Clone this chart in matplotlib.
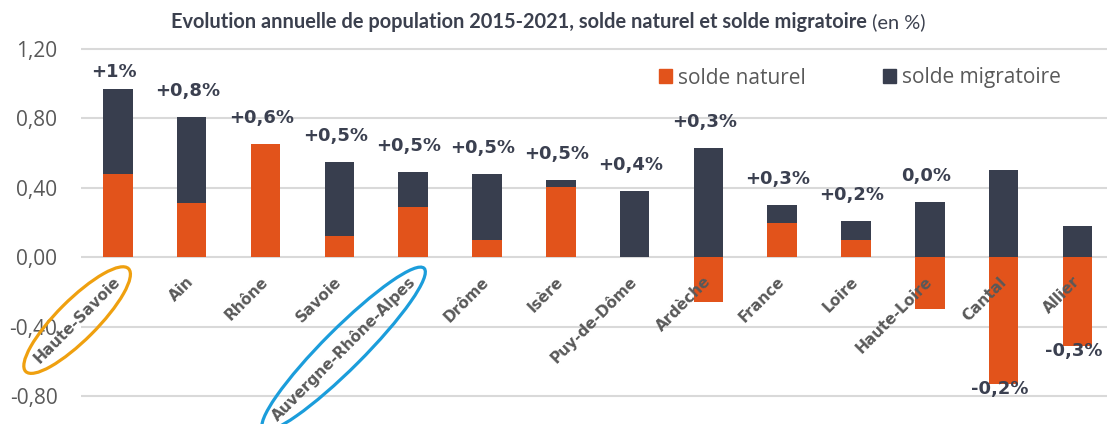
import matplotlib
matplotlib.use("Agg")
import matplotlib.pyplot as plt
from matplotlib.patches import Patch, Ellipse
from matplotlib.transforms import IdentityTransform
import numpy as np

# ---------------- data ----------------
categories = ["Haute-Savoie", "Ain", "Rhône", "Savoie", "Auvergne-Rhône-Alpes", "Drôme", "Isère",
              "Puy-de-Dôme", "Ardèche", "France", "Loire", "Haute-Loire", "Cantal", "Allier"]
solde_naturel = [0.48, 0.31, 0.65, 0.12, 0.29, 0.10, 0.405, 0.00, -0.26, 0.20, 0.10, -0.30, -0.73, -0.51]
solde_migratoire = [0.49, 0.50, 0.00, 0.43, 0.20, 0.38, 0.04, 0.38, 0.63, 0.10, 0.11, 0.32, 0.50, 0.18]
total_labels = ["+1%", "+0,8%", "+0,6%", "+0,5%", "+0,5%", "+0,5%", "+0,5%", "+0,4%",
                "+0,3%", "+0,3%", "+0,2%", "0,0%", "-0,2%", "-0,3%"]
y_ticks = [-0.80, -0.40, 0.00, 0.40, 0.80, 1.20]
y_tick_labels = ["-0,80", "-0,40", "0,00", "0,40", "0,80", "1,20"]
series_names = ["solde naturel", "solde migratoire"]
highlighted = ["Haute-Savoie", "Auvergne-Rhône-Alpes"]
title_bold = "Evolution annuelle de population 2015-2021, solde naturel et solde migratoire"
title_normal = " (en %)"

# ---------------- style ----------------
ORANGE = "#E2531B"
DARK = "#383E4E"
GRID = "#D9D9D9"
GRAY = "#595959"
LABEL_C = "#3B4050"
TITLE_C = "#3B404E"
HIGHLIGHT_COLORS = ["#EFA00F", "#1B9DDB"]

W, H = 1107, 424
fig = plt.figure(figsize=(W / 100, H / 100), dpi=100)
ax_left_px, ax_top_px = 81, 47.3
ax = fig.add_axes([ax_left_px / W, 0, 1 - ax_left_px / W, (H - ax_top_px) / H])
ax.set_ylim(-0.961, 1.21)
ax.set_xlim(-0.5, 13.4)

x = np.arange(len(categories))
nat = np.array(solde_naturel)
mig = np.array(solde_migratoire)
bw = 0.4
ax.bar(x, nat, width=bw, color=ORANGE, zorder=3)
ax.bar(x, mig, width=bw, bottom=np.maximum(nat, 0), color=DARK, zorder=3)

ax.set_yticks(y_ticks)
ax.set_yticklabels(y_tick_labels)
ax.tick_params(axis="y", length=0, pad=17, labelsize=15, labelcolor=GRAY)
for lbl in ax.get_yticklabels():
    lbl.set_fontfamily(["Open Sans", "DejaVu Sans"])
ax.set_xticks([])
ax.grid(axis="y", color=GRID, lw=1.5, zorder=0)
for s in ax.spines.values():
    s.set_visible(False)

# value labels
top = np.maximum(nat, 0) + mig
bottom = np.minimum(nat, 0)
total = nat + mig
for i, lab in enumerate(total_labels):
    if total[i] < 0:
        yy = bottom[i] - 0.03
    else:
        yy = min(top[i] + 0.15, 1.07)
    ax.annotate(lab, (x[i], yy), xytext=(-3, 0), textcoords="offset points",
                ha="center", va="center", fontsize=13, fontweight="bold",
                color=LABEL_C, zorder=5)

# category labels (inside plot, below zero line)
cat_texts = {}
for i, name in enumerate(categories):
    t = ax.text(x[i], -0.127, name, rotation=45, rotation_mode="anchor", ha="right",
                va="center", fontsize=11, fontweight="bold", color=GRAY, zorder=5)
    cat_texts[name] = t

# legend
handles = [Patch(color=ORANGE, label=series_names[0]), Patch(color=DARK, label=series_names[1])]
fig.legend(handles=handles, ncol=2, loc="center left", bbox_to_anchor=(659 / W, 1 - 78 / H),
           frameon=False, handlelength=0.63, handleheight=0.63, handletextpad=0.29,
           columnspacing=3.7, borderpad=0, borderaxespad=0,
           prop={"family": ["Open Sans", "DejaVu Sans"], "size": 15}, labelcolor=GRAY)

# title (bold part + normal part)
renderer = fig.canvas.get_renderer()
ty = 1 - 22 / H
t1 = fig.text(0, ty, title_bold, fontsize=13, fontweight="bold", family=["Lato", "DejaVu Sans"],
              color=TITLE_C, ha="left", va="center")
t2 = fig.text(0, ty, title_normal, fontsize=13, family=["Lato", "DejaVu Sans"],
              color=TITLE_C, ha="left", va="center")
w1 = t1.get_window_extent(renderer).width
scale = 693 / w1
t1.set_fontsize(13 * scale)
t2.set_fontsize(13 * scale)
w1 = t1.get_window_extent(renderer).width
t1.set_x(171 / W)
t2.set_x((171 + w1) / W)

# highlight ellipses around selected category labels
fig.canvas.draw()
renderer = fig.canvas.get_renderer()
for name, col in zip(highlighted, HIGHLIGHT_COLORS):
    bb = cat_texts[name].get_window_extent(renderer)
    cx, cy = (bb.x0 + bb.x1) / 2, (bb.y0 + bb.y1) / 2
    major = bb.width * np.sqrt(2) + 15
    e = Ellipse((cx, cy), width=major, height=40, angle=45, transform=IdentityTransform(),
                fill=False, edgecolor=col, lw=2.3, zorder=10)
    fig.add_artist(e)

fig.savefig("out.png", dpi=100)
